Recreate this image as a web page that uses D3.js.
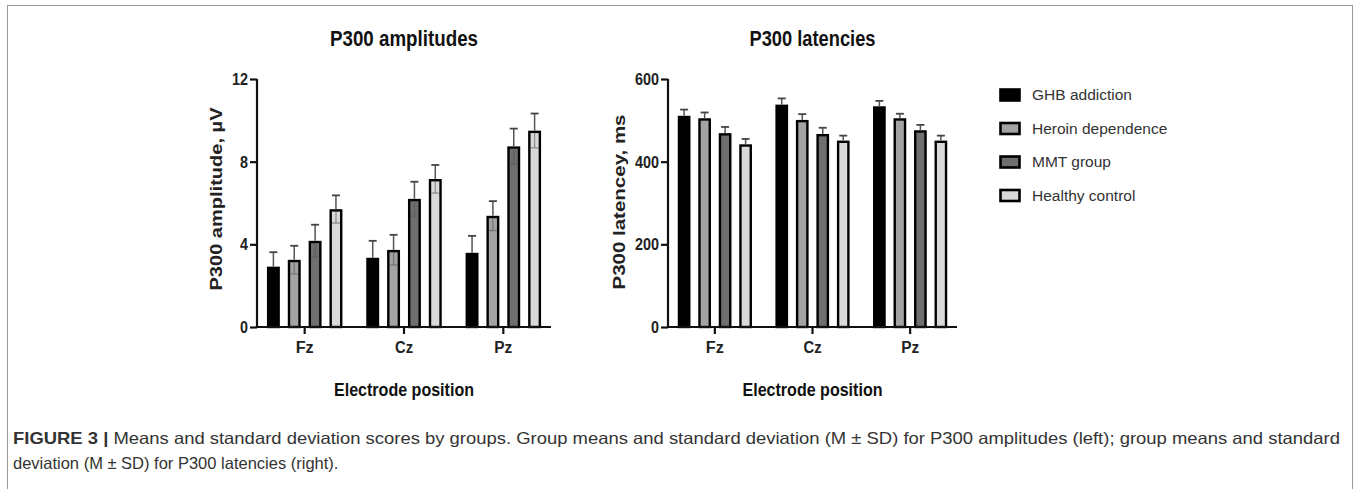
<!DOCTYPE html>
<html><head><meta charset="utf-8">
<script src="https://cdn.jsdelivr.net/npm/d3@7"></script>
<style>
html,body{margin:0;padding:0;background:#fff;}
svg{display:block;}
</style></head>
<body><svg id="c" width="1360" height="489"></svg>
<script>
const electrodes = ["Fz", "Cz", "Pz"];
const groups = ["GHB addiction", "Heroin dependence", "MMT group", "Healthy control"];
const groupColors = ["#000000", "#a3a3a3", "#6f6f6f", "#d9d9d9"];

// P300 amplitudes (µV), per group, order Fz, Cz, Pz
const ampGHB = [2.92, 3.35, 3.59];
const ampHeroin = [3.25, 3.73, 5.38];
const ampMMT = [4.17, 6.20, 8.74];
const ampHealthy = [5.70, 7.16, 9.50];
const ampSdGHB = [0.70, 0.82, 0.82];
const ampSdHeroin = [0.68, 0.73, 0.71];
const ampSdMMT = [0.78, 0.83, 0.86];
const ampSdHealthy = [0.67, 0.68, 0.83];

// P300 latencies (ms)
const latGHB = [511, 538, 534];
const latHeroin = [505, 501, 505];
const latMMT = [469, 467, 476];
const latHealthy = [442, 451, 451];
const latSdGHB = [15, 15, 13];
const latSdHeroin = [14, 14, 11];
const latSdMMT = [15, 15, 13];
const latSdHealthy = [13, 12, 12];

const ampTicks = [0, 4, 8, 12];
const latTicks = [0, 200, 400, 600];

const svg = d3.select("#c");
const FONT = "'Liberation Sans',Arial,sans-serif";

// figure border
svg.append("rect").attr("x", 7.5).attr("y", 5.5).attr("width", 1345).attr("height", 500)
  .attr("fill", "none").attr("stroke", "#9a9a9a").attr("stroke-width", 1);

function narrowText(sel, len) {
  sel.attr("textLength", len).attr("lengthAdjust", "spacingAndGlyphs");
}

function panel(opts) {
  const g = svg.append("g");
  const x0 = d3.scaleBand().domain(electrodes).range([opts.left, opts.right]).paddingInner(0.24).paddingOuter(0.1);
  const x1 = d3.scaleBand().domain(groups).range([0, x0.bandwidth()]).paddingInner(0.38).paddingOuter(0);
  const y = d3.scaleLinear().domain([0, opts.max]).range([327, 79]);

  const rows = [];
  electrodes.forEach((e, i) => {
    groups.forEach((gr, j) => {
      rows.push({e, gr, j, v: opts.values[j][i], sd: opts.sds[j][i]});
    });
  });

  g.selectAll("rect.bar").data(rows).enter().append("rect")
    .attr("class", "bar")
    .attr("x", d => x0(d.e) + x1(d.gr) + 1.2)
    .attr("y", d => y(d.v) + 1.2)
    .attr("width", x1.bandwidth() - 2.4)
    .attr("height", d => y(0) - y(d.v) - 1.2)
    .attr("fill", d => groupColors[d.j])
    .attr("stroke", "#000").attr("stroke-width", 2.4);

  const eb = g.append("g");
  rows.forEach(d => {
    const cx = x0(d.e) + x1(d.gr) + x1.bandwidth() / 2;
    if (d.j > 0 && opts.lower) {
      eb.append("line").attr("x1", cx).attr("x2", cx).attr("y1", y(d.v) + 2).attr("y2", y(d.v - d.sd))
        .attr("stroke", "#555").attr("stroke-opacity", 0.55).attr("stroke-width", 1.3);
      eb.append("line").attr("x1", cx - 4).attr("x2", cx + 4).attr("y1", y(d.v - d.sd)).attr("y2", y(d.v - d.sd))
        .attr("stroke", "#555").attr("stroke-opacity", 0.55).attr("stroke-width", 1.3);
    }
    eb.append("line").attr("x1", cx).attr("x2", cx).attr("y1", y(d.v)).attr("y2", y(d.v + d.sd))
      .attr("stroke", "#555").attr("stroke-width", 1.5);
    eb.append("line").attr("x1", cx - 4).attr("x2", cx + 4).attr("y1", y(d.v + d.sd)).attr("y2", y(d.v + d.sd))
      .attr("stroke", "#444").attr("stroke-width", 1.8);
  });

  const ya = g.append("g").attr("transform", `translate(${opts.left},0)`)
    .call(d3.axisLeft(y).tickValues(opts.ticks).tickSize(7).tickPadding(2).tickFormat(d3.format("d")));
  ya.select(".domain").attr("stroke", "#111").attr("stroke-width", 2.2).attr("d", `M0,${y(0)+1}V${y(opts.max)}`);
  ya.selectAll(".tick line").attr("stroke", "#111").attr("stroke-width", 2.2);
  ya.selectAll(".tick text").attr("font-family", FONT).attr("font-weight", "bold")
    .attr("font-size", 17).attr("fill", "#222")
    .each(function(d) { const s = String(d); d3.select(this).attr("textLength", s.length * 8).attr("lengthAdjust", "spacingAndGlyphs"); });

  const xa = g.append("g").attr("transform", `translate(0,327)`)
    .call(d3.axisBottom(x0).tickSize(7).tickPadding(8));
  xa.select(".domain").attr("stroke", "#111").attr("stroke-width", 2.2).attr("d", `M${opts.left},0H${opts.right}`);
  xa.selectAll(".tick line").attr("stroke", "#111").attr("stroke-width", 2.2);
  xa.selectAll(".tick text").attr("font-family", FONT).attr("font-weight", "bold")
    .attr("font-size", 16).attr("fill", "#222")
    .attr("textLength", 18).attr("lengthAdjust", "spacingAndGlyphs");

  const cx = (opts.left + opts.right) / 2;
  g.append("text").attr("x", cx).attr("y", 46).attr("text-anchor", "middle")
    .attr("font-family", FONT).attr("font-weight", "bold").attr("font-size", 22).attr("fill", "#111")
    .text(opts.title).call(narrowText, opts.titleLen);
  g.append("text").attr("x", cx).attr("y", 396).attr("text-anchor", "middle")
    .attr("font-family", FONT).attr("font-weight", "bold").attr("font-size", 18).attr("fill", "#111")
    .text("Electrode position").call(narrowText, 140);
  g.append("text").attr("transform", `translate(${opts.ylabX},${opts.ylabY}) rotate(-90)`)
    .attr("text-anchor", "middle").attr("dy", "0.35em")
    .attr("font-family", FONT).attr("font-weight", "bold").attr("font-size", 17).attr("fill", "#222")
    .text(opts.ylabel).call(narrowText, opts.ylabLen);
}

panel({left: 257, right: 551, max: 12, ticks: ampTicks, title: "P300 amplitudes", titleLen: 148,
  ylabel: "P300 amplitude, \u00b5V", ylabX: 216, ylabY: 199, ylabLen: 183, lower: true,
  values: [ampGHB, ampHeroin, ampMMT, ampHealthy], sds: [ampSdGHB, ampSdHeroin, ampSdMMT, ampSdHealthy]});
panel({left: 668, right: 957, max: 600, ticks: latTicks, title: "P300 latencies", titleLen: 126,
  ylabel: "P300 latencey, ms", ylabX: 619, ylabY: 202, ylabLen: 175, lower: false,
  values: [latGHB, latHeroin, latMMT, latHealthy], sds: [latSdGHB, latSdHeroin, latSdMMT, latSdHealthy]});

const lg = svg.append("g");
groups.forEach((gr, j) => {
  const yy = 95 + j * 33.5;
  lg.append("rect").attr("x", 1000.5).attr("y", yy - 5.5).attr("width", 19).attr("height", 11)
    .attr("fill", groupColors[j]).attr("stroke", "#000").attr("stroke-width", 2.6);
  lg.append("text").attr("x", 1032).attr("y", yy).attr("dy", "0.35em")
    .attr("font-family", FONT).attr("font-size", 15.5).attr("fill", "#333").text(gr);
});

const cap = svg.append("g").attr("font-family", FONT).attr("font-size", 16.5).attr("fill", "#333");
const t1 = cap.append("text").attr("x", 13).attr("y", 444)
  .attr("textLength", 1327).attr("lengthAdjust", "spacingAndGlyphs");
t1.append("tspan").attr("font-weight", "bold").text("FIGURE 3 | ");
t1.append("tspan").text("Means and standard deviation scores by groups. Group means and standard deviation (M \u00b1 SD) for P300 amplitudes (left); group means and standard");
cap.append("text").attr("x", 13).attr("y", 469)
  .text("deviation (M \u00b1 SD) for P300 latencies (right).");
</script>
</body></html>
